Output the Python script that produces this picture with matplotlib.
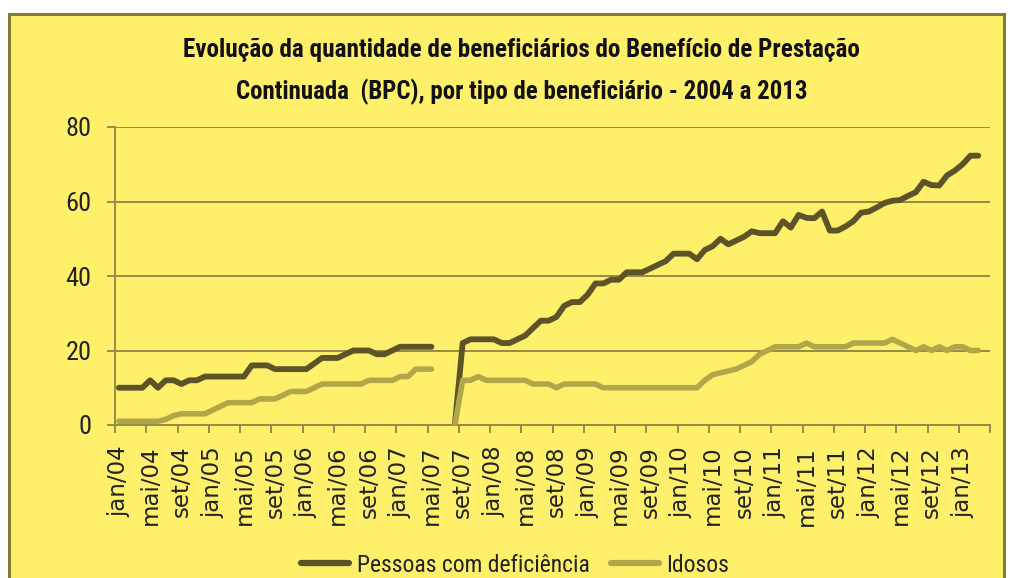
import matplotlib
matplotlib.use("Agg")
import matplotlib.pyplot as plt
import numpy as np
from matplotlib.patches import Rectangle
from matplotlib import font_manager as fm

# ---------------- data ----------------
title_lines = ["Evolução da quantidade de beneficiários do Benefício de Prestação",
               "Continuada  (BPC), por tipo de beneficiário - 2004 a 2013"]

tick_labels = ["jan/04", "mai/04", "set/04", "jan/05", "mai/05", "set/05",
               "jan/06", "mai/06", "set/06", "jan/07", "mai/07", "set/07",
               "jan/08", "mai/08", "set/08", "jan/09", "mai/09", "set/09",
               "jan/10", "mai/10", "set/10", "jan/11", "mai/11", "set/11",
               "jan/12", "mai/12", "set/12", "jan/13"]

series_names = ["Pessoas com deficiência", "Idosos"]

# monthly values jan/04 .. mar/13 (None = no data)
deficiencia = [10, 10, 10, 10, 12, 10, 12, 12, 11, 12, 12,
               13, 13, 13, 13, 13, 13, 16, 16, 16, 15, 15, 15, 15, 15,
               16.5, 18, 18, 18, 19, 20, 20, 20, 19, 19, 20,
               21, 21, 21, 21, 21, None, None, 0, 22,
               23, 23, 23, 23, 22, 22, 23, 24, 26, 28, 28, 29, 32, 33, 33,
               35, 38, 38, 39, 39, 41, 41, 41, 42, 43, 44, 46, 46, 46,
               44.5, 47, 48, 50, 48.5, 49.5, 50.5, 52, 51.5, 51.5, 51.5,
               54.7, 53, 56.4, 55.6, 55.5, 57.3, 52.2, 52.2, 53.3, 54.7,
               57, 57.3, 58.4, 59.6, 60.2, 60.4, 61.5, 62.5, 65.3, 64.4,
               64.3, 67, 68.3, 70, 72.3, 72.3]

idosos = [1, 1, 1, 1, 1, 1, 1.5, 2.5, 3, 3, 3, 3, 4, 5, 6, 6, 6, 6,
          7, 7, 7, 8, 9, 9, 9, 10, 11, 11, 11, 11, 11, 11, 12, 12, 12, 12,
          13, 13, 15, 15, 15, None, None, 0, 12, 12, 13, 12, 12, 12, 12,
          12, 12, 11, 11, 11, 10, 11, 11, 11, 11, 11,
          10, 10, 10, 10, 10, 10, 10, 10, 10, 10, 10, 10, 10,
          12, 13.5, 14, 14.5, 15, 16, 17, 19, 20, 21, 21, 21, 21, 22,
          21, 21, 21, 21, 21, 22, 22, 22, 22, 22, 23, 22, 21, 20, 21,
          20, 21, 20, 21, 21, 20, 20]

y_ticks = [0, 20, 40, 60, 80]

# ---------------- style ----------------
BG = "#FFF06B"
GRID = "#958B45"
BORDER = "#857A3A"
C_DEF = "#5C5428"
C_IDO = "#B1A64A"

installed = {f.name for f in fm.fontManager.ttflist}
def pick(*names):
    for nm in names:
        if nm in installed:
            return [nm, "DejaVu Sans"]
    return ["DejaVu Sans"]

narrow = pick("Liberation Sans Narrow", "Roboto Condensed", "Open Sans Condensed",
              "DejaVu Sans Condensed", "Liberation Sans")
wide = ["DejaVu Sans"]

fig = plt.figure(figsize=(10.10, 5.78), dpi=100)
fig.patch.set_facecolor("white")

fig.patches.append(Rectangle((9 / 1010, -0.05), (1004 - 9) / 1010, 1.05 - 14 / 578,
                             transform=fig.transFigure, facecolor=BG,
                             edgecolor=BORDER, linewidth=2.2, zorder=-5))

ax = fig.add_axes([115 / 1010, 1 - 425 / 578, (990 - 115) / 1010, (425 - 127) / 578])
ax.set_zorder(2)
ax.set_facecolor(BG)

n = len(deficiencia)
x = np.arange(n)
d = np.array([np.nan if v is None else v for v in deficiencia], dtype=float)
i = np.array([np.nan if v is None else v for v in idosos], dtype=float)

ax.plot(x, d, color=C_DEF, lw=4.2, solid_joinstyle="round", solid_capstyle="round",
        label=series_names[0], zorder=3)
ax.plot(x, i, color=C_IDO, lw=4.0, solid_joinstyle="round", solid_capstyle="round",
        label=series_names[1], zorder=3)

ax.set_xlim(-0.5, n - 0.5)
ax.set_ylim(0, 80)
ax.set_yticks(y_ticks)
ax.yaxis.grid(True, color=GRID, lw=1.4)
ax.set_axisbelow(True)

for s in ["top", "right"]:
    ax.spines[s].set_visible(False)
for s in ["left", "bottom"]:
    ax.spines[s].set_color(GRID)
    ax.spines[s].set_linewidth(1.4)

ax.tick_params(axis="y", direction="out", length=6, width=1.4, color=GRID,
               pad=11, labelsize=19, labelcolor="#222222")
for lab in ax.get_yticklabels():
    lab.set_family(narrow)
    lab.set_fontstretch("condensed")

label_pos = np.arange(0, 4 * len(tick_labels), 4)
ax.set_xticks(label_pos)
ax.set_xticklabels(tick_labels, rotation=90, family=wide, fontsize=16.5,
                   color="#222222")
ax.tick_params(axis="x", which="major", length=0, pad=15)
ax.set_xticks(np.arange(-0.5, 4 * len(tick_labels), 4), minor=True)
ax.tick_params(axis="x", which="minor", direction="out", length=6, width=1.4,
               color=GRID)

renderer = fig.canvas.get_renderer()

def fit(txt, target_px, maxsize):
    w = txt.get_window_extent(renderer).width
    txt.set_fontsize(min(maxsize, txt.get_fontsize() * target_px / w))

t1 = fig.text(521 / 1010, 1 - 50 / 578, title_lines[0], ha="center", va="center",
              family=narrow, fontweight="bold", fontstretch="condensed",
              fontsize=19, color="#111111")
t2 = fig.text(522 / 1010, 1 - 92 / 578, title_lines[1], ha="center", va="center",
              family=narrow, fontweight="bold", fontstretch="condensed",
              fontsize=19, color="#111111")
fit(t1, 677, 22)
fit(t2, 572, 22)

# legend font size fitted to the width of the first entry
probe = fig.text(0, 0, series_names[0], family=narrow, fontstretch="condensed",
                 fontsize=18)
fit(probe, 233, 19)
leg_size = probe.get_fontsize()
probe.remove()

leg = fig.legend(loc="center", bbox_to_anchor=(515 / 1010, 1 - 565 / 578),
                 ncol=2, frameon=False,
                 prop={"family": narrow, "size": leg_size, "stretch": "condensed"},
                 handlelength=48 / (leg_size * 100 / 72), handletextpad=0.3,
                 columnspacing=0.9, borderaxespad=0)
for t in leg.get_texts():
    t.set_color("#222222")
for h in leg.legend_handles:
    h.set_linewidth(4.5)

fig.savefig("out.png", dpi=100, facecolor=fig.get_facecolor())
